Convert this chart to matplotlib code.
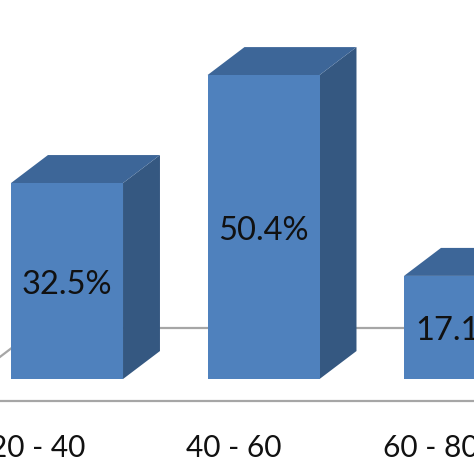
import matplotlib
matplotlib.use("Agg")
import matplotlib.pyplot as plt
from matplotlib.patches import Polygon

categories = ["20 - 40", "40 - 60", "60 - 80"]
values = [32.5, 50.4, 17.1]
labels = ["32.5%", "50.4%", "17.1%"]

plt.rcParams['font.family'] = ['Lato', 'DejaVu Sans']

fig = plt.figure(figsize=(4.74, 4.74), dpi=100)
ax = fig.add_axes([0, 0, 1, 1])
ax.set_xlim(-0.341, 2.071)
ax.set_ylim(-15.75, 62.85)
ax.axis('off')

half_w = 0.285          # half width of bar front (category units)
dx, dy = 0.188, 4.64    # depth offset
front_c = '#4F81BD'
top_c = '#3D6698'
side_c = '#355881'
grid_c = '#A6A6A6'

# floor lines
y_front, y_back = -3.65, 8.46
x_fl, x_bl = -0.636, -0.148
ax.plot([-0.5, 2.2], [y_front, y_front], color=grid_c, lw=1.6, zorder=1)
ax.plot([x_bl, 2.2], [y_back, y_back], color=grid_c, lw=1.6, zorder=1)
ax.plot([x_fl, x_bl], [y_front, y_back], color=grid_c, lw=1.6, zorder=1)

for i, (v, lab) in enumerate(zip(values, labels)):
    x0, x1 = i - half_w, i + half_w
    front = Polygon([(x0, 0), (x1, 0), (x1, v), (x0, v)], closed=True,
                    facecolor=front_c, edgecolor='none', zorder=3)
    top = Polygon([(x0, v), (x1, v), (x1 + dx, v + dy), (x0 + dx, v + dy)], closed=True,
                  facecolor=top_c, edgecolor='none', zorder=3)
    side = Polygon([(x1, 0), (x1 + dx, dy), (x1 + dx, v + dy), (x1, v)], closed=True,
                   facecolor=side_c, edgecolor='none', zorder=3)
    for p in (side, top, front):
        ax.add_patch(p)
    ax.text(i, v / 2 - 0.6, lab, ha='center', va='center', fontsize=23.5,
            color='#111111', zorder=4)
    ax.text(i - 0.15, -11.4, categories[i], ha='center', va='center',
            fontsize=21.5, color='#111111', zorder=4)

fig.savefig('out.png', dpi=100)
